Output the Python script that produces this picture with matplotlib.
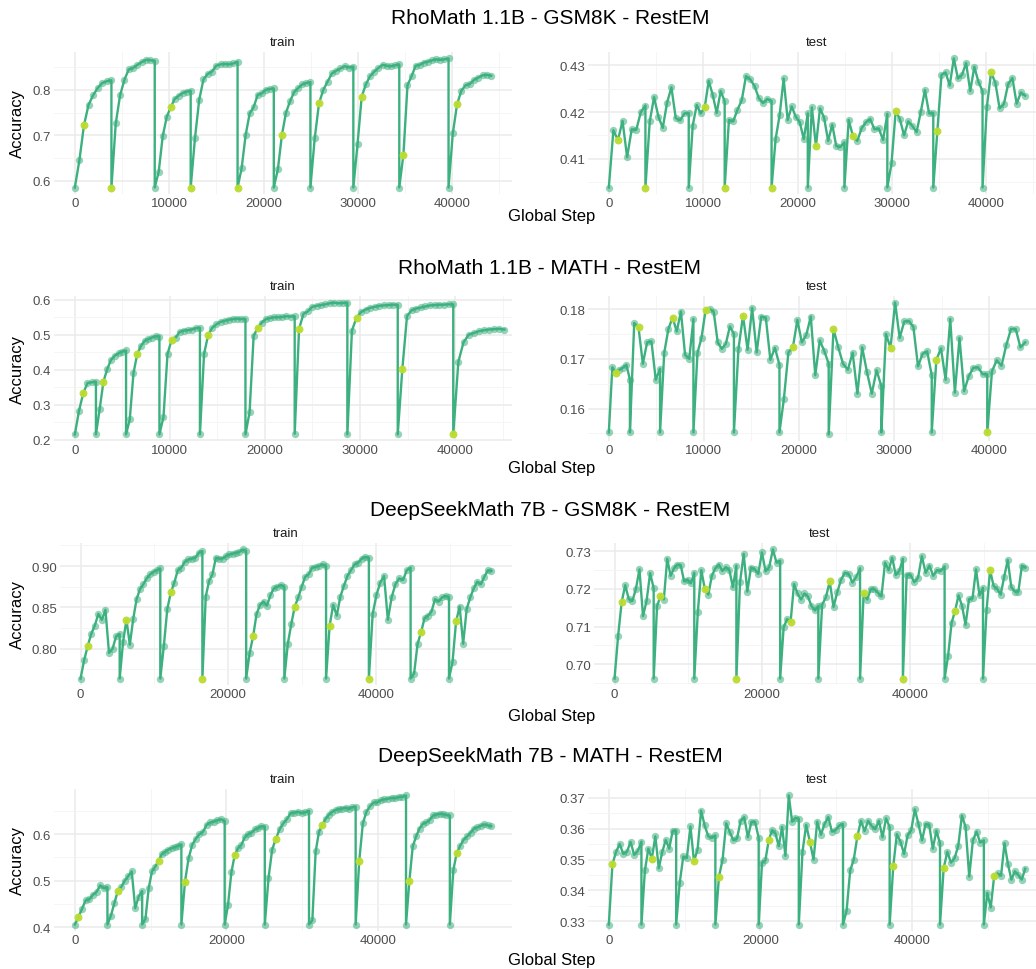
import numpy as np
import matplotlib
matplotlib.use("Agg")
import matplotlib.pyplot as plt
from matplotlib.ticker import MultipleLocator, FormatStrFormatter

plt.rcParams['font.family'] = ['Liberation Sans', 'DejaVu Sans']

GREEN = '#3DB07F'
YELLOW = '#C3DF2A'

# ---- RhoMath 1.1B - GSM8K ----
r1_steps = [0, 3880, 8470, 12280, 17250, 21090, 24970, 29520, 34390, 39610]
r1_end = [44130, 44130]
r1_xmax = 44130
r1_train = [
    [0.585, 0.645, 0.722, 0.767, 0.788, 0.804, 0.815, 0.819, 0.821],
    [0.585, 0.726, 0.788, 0.822, 0.845, 0.848, 0.855, 0.861, 0.866, 0.865, 0.864],
    [0.585, 0.620, 0.698, 0.740, 0.762, 0.780, 0.787, 0.793, 0.796, 0.798],
    [0.585, 0.693, 0.778, 0.823, 0.835, 0.840, 0.853, 0.856, 0.857, 0.856, 0.858, 0.862],
    [0.585, 0.627, 0.700, 0.748, 0.762, 0.789, 0.792, 0.800, 0.802, 0.803],
    [0.585, 0.625, 0.701, 0.750, 0.775, 0.795, 0.804, 0.812, 0.815, 0.817],
    [0.585, 0.693, 0.770, 0.800, 0.818, 0.836, 0.842, 0.847, 0.852, 0.849, 0.851],
    [0.585, 0.680, 0.785, 0.812, 0.830, 0.840, 0.848, 0.855, 0.853, 0.852, 0.854, 0.856],
    [0.585, 0.657, 0.810, 0.830, 0.853, 0.855, 0.860, 0.862, 0.865, 0.867, 0.866, 0.867, 0.869],
    [0.585, 0.704, 0.768, 0.798, 0.810, 0.813, 0.822, 0.827, 0.832, 0.833, 0.831],
]
r1_test = [
    [0.4038, 0.4161, 0.4140, 0.4181, 0.4103, 0.4163, 0.4162, 0.4200, 0.4214],
    [0.4038, 0.4180, 0.4232, 0.4190, 0.4166, 0.4220, 0.4253, 0.4187, 0.4182, 0.4197, 0.4198],
    [0.4038, 0.4171, 0.4215, 0.4197, 0.4210, 0.4267, 0.4237, 0.4198, 0.4245, 0.4223],
    [0.4038, 0.4183, 0.4180, 0.4205, 0.4225, 0.4277, 0.4270, 0.4256, 0.4230, 0.4219, 0.4228, 0.4224],
    [0.4038, 0.4142, 0.4193, 0.4272, 0.4183, 0.4212, 0.4190, 0.4178, 0.4142, 0.4197],
    [0.4038, 0.4210, 0.4127, 0.4208, 0.4188, 0.4138, 0.4173, 0.4127, 0.4125, 0.4135],
    [0.4038, 0.4183, 0.4148, 0.4138, 0.4165, 0.4178, 0.4185, 0.4163, 0.4165, 0.4140, 0.4196],
    [0.4038, 0.4090, 0.4202, 0.4185, 0.4150, 0.4180, 0.4170, 0.4157, 0.4200, 0.4247, 0.4197, 0.4198],
    [0.4038, 0.4160, 0.4280, 0.4285, 0.4257, 0.4315, 0.4272, 0.4280, 0.4305, 0.4245, 0.4297, 0.4265, 0.4245],
    [0.4038, 0.4210, 0.4285, 0.4263, 0.4208, 0.4217, 0.4260, 0.4273, 0.4218, 0.4242, 0.4235],
]
r1_train_sel = [2, 0, 4, 0, 0, 2, 2, 2, 1, 2]
r1_test_sel = [2, 0, 4, 0, 0, 2, 2, 2, 1, 2]

# ---- RhoMath 1.1B - MATH ----
r2_steps = [0, 2220, 5390, 8900, 13160, 17950, 23130, 28670, 33970, 39810]
r2_end = [45200, 43800]
r2_xmax = 43800
r2_train = [
    [0.215, 0.283, 0.333, 0.362, 0.364, 0.366],
    [0.215, 0.288, 0.366, 0.402, 0.428, 0.440, 0.447, 0.452, 0.455],
    [0.215, 0.258, 0.390, 0.444, 0.468, 0.482, 0.488, 0.492, 0.496, 0.495],
    [0.215, 0.265, 0.445, 0.485, 0.492, 0.508, 0.512, 0.513, 0.515, 0.519, 0.520],
    [0.215, 0.445, 0.500, 0.520, 0.530, 0.537, 0.540, 0.543, 0.545, 0.546, 0.545, 0.545],
    [0.215, 0.278, 0.497, 0.520, 0.535, 0.545, 0.548, 0.550, 0.550, 0.551, 0.553, 0.552, 0.553],
    [0.217, 0.517, 0.560, 0.567, 0.580, 0.583, 0.585, 0.587, 0.590, 0.592, 0.590, 0.591, 0.592],
    [0.215, 0.512, 0.549, 0.565, 0.572, 0.577, 0.580, 0.583, 0.584, 0.585, 0.586, 0.586],
    [0.215, 0.403, 0.553, 0.570, 0.575, 0.578, 0.581, 0.584, 0.585, 0.586, 0.586, 0.587, 0.587],
    [0.215, 0.423, 0.478, 0.500, 0.505, 0.510, 0.513, 0.515, 0.516, 0.517, 0.515],
]
r2_test = [
    [0.1552, 0.1683, 0.1672, 0.1678, 0.1682, 0.1688, 0.1658],
    [0.1552, 0.1772, 0.1763, 0.1690, 0.1733, 0.1735, 0.1658, 0.1680],
    [0.1552, 0.1712, 0.1760, 0.1783, 0.1755, 0.1795, 0.1708, 0.1700, 0.1780],
    [0.1552, 0.1712, 0.1742, 0.1798, 0.1800, 0.1795, 0.1733, 0.1720, 0.1730, 0.1765, 0.1750],
    [0.1552, 0.1720, 0.1787, 0.1718, 0.1802, 0.1713, 0.1785, 0.1783, 0.1698, 0.1722, 0.1688],
    [0.1552, 0.1620, 0.1713, 0.1723, 0.1778, 0.1733, 0.1748, 0.1785, 0.1667, 0.1737, 0.1716, 0.1690],
    [0.1548, 0.1760, 0.1723, 0.1690, 0.1678, 0.1712, 0.1630, 0.1723, 0.1673, 0.1630, 0.1677, 0.1645],
    [0.1552, 0.1750, 0.1722, 0.1813, 0.1742, 0.1775, 0.1776, 0.1764, 0.1685, 0.1710, 0.1715, 0.1667],
    [0.1552, 0.1698, 0.1721, 0.1658, 0.1780, 0.1632, 0.1742, 0.1635, 0.1665, 0.1682, 0.1683, 0.1669, 0.1669],
    [0.1552, 0.1675, 0.1697, 0.1686, 0.1727, 0.1760, 0.1760, 0.1723, 0.1733],
]
r2_train_sel = [2, 2, 3, 3, 2, 3, 1, 2, 1, 0]
r2_test_sel = [2, 2, 3, 3, 2, 3, 1, 2, 1, 0]

# ---- DeepSeekMath 7B - GSM8K ----
r3_steps = [0, 5300, 10800, 16500, 22430, 27600, 33250, 39050, 44700, 49900]
r3_end = [55650, 55650]
r3_xmax = 55650
r3_train = [
    [0.764, 0.786, 0.803, 0.818, 0.828, 0.842, 0.835, 0.847, 0.795, 0.800, 0.815, 0.818],
    [0.764, 0.808, 0.835, 0.805, 0.836, 0.860, 0.872, 0.878, 0.885, 0.890, 0.893, 0.895, 0.897],
    [0.764, 0.803, 0.848, 0.868, 0.880, 0.895, 0.898, 0.905, 0.908, 0.909, 0.910, 0.916, 0.918],
    [0.764, 0.863, 0.882, 0.890, 0.910, 0.909, 0.909, 0.912, 0.914, 0.915, 0.916, 0.917, 0.920, 0.918],
    [0.764, 0.795, 0.815, 0.842, 0.853, 0.857, 0.852, 0.865, 0.873, 0.875, 0.877, 0.875],
    [0.764, 0.806, 0.830, 0.851, 0.862, 0.875, 0.887, 0.890, 0.898, 0.899, 0.900, 0.902, 0.900],
    [0.764, 0.828, 0.853, 0.840, 0.863, 0.876, 0.888, 0.895, 0.902, 0.904, 0.909, 0.911, 0.910],
    [0.764, 0.842, 0.865, 0.880, 0.888, 0.835, 0.862, 0.878, 0.885, 0.883, 0.895, 0.898],
    [0.764, 0.770, 0.806, 0.820, 0.837, 0.840, 0.845, 0.860, 0.857, 0.862, 0.864, 0.862],
    [0.764, 0.784, 0.833, 0.851, 0.806, 0.848, 0.862, 0.873, 0.881, 0.878, 0.887, 0.895, 0.894],
]
r3_test = [
    [0.6962, 0.7075, 0.7165, 0.7210, 0.7173, 0.7168, 0.7200, 0.7252, 0.7128, 0.7168, 0.7242, 0.7202],
    [0.6962, 0.7155, 0.7180, 0.7172, 0.7280, 0.7235, 0.7255, 0.7265, 0.7263, 0.7220, 0.7225, 0.7215, 0.7243],
    [0.6962, 0.7138, 0.7250, 0.7200, 0.7185, 0.7235, 0.7255, 0.7265, 0.7248, 0.7258, 0.7250, 0.7205, 0.7262],
    [0.6962, 0.7218, 0.7293, 0.7193, 0.7257, 0.7253, 0.7240, 0.7297, 0.7247, 0.7258, 0.7305, 0.7270, 0.7275],
    [0.6962, 0.7098, 0.7120, 0.7112, 0.7213, 0.7188, 0.7172, 0.7188, 0.7180, 0.7155, 0.7143, 0.7155],
    [0.6962, 0.7158, 0.7178, 0.7220, 0.7152, 0.7192, 0.7225, 0.7243, 0.7240, 0.7217, 0.7232, 0.7255],
    [0.6962, 0.7188, 0.7172, 0.7200, 0.7200, 0.7190, 0.7180, 0.7270, 0.7250, 0.7283, 0.7237, 0.7248, 0.7280],
    [0.6962, 0.7238, 0.7238, 0.7218, 0.7230, 0.7287, 0.7243, 0.7262, 0.7235, 0.7250, 0.7248, 0.7260],
    [0.6962, 0.7022, 0.7110, 0.7142, 0.7183, 0.7155, 0.7105, 0.7173, 0.7175, 0.7252, 0.7183, 0.7203],
    [0.6962, 0.7143, 0.7250, 0.7208, 0.7200, 0.7185, 0.7233, 0.7277, 0.7205, 0.7193, 0.7193, 0.7262, 0.7257],
]
r3_train_sel = [2, 2, 3, 0, 2, 3, 1, 0, 3, 2]
r3_test_sel = [2, 2, 3, 0, 3, 3, 1, 0, 3, 2]

# ---- DeepSeekMath 7B - MATH ----
r4_steps = [0, 4300, 8880, 14050, 19760, 25050, 30880, 37030, 43670, 49450]
r4_end = [54900, 54900]
r4_xmax = 54900
r4_train = [
    [0.406, 0.422, 0.440, 0.458, 0.460, 0.470, 0.476, 0.490, 0.484, 0.486],
    [0.406, 0.425, 0.452, 0.478, 0.487, 0.500, 0.510, 0.520, 0.441, 0.466, 0.478],
    [0.406, 0.418, 0.484, 0.520, 0.530, 0.543, 0.557, 0.562, 0.567, 0.570, 0.572, 0.575, 0.578],
    [0.406, 0.498, 0.548, 0.577, 0.590, 0.600, 0.605, 0.620, 0.625, 0.627, 0.630, 0.632, 0.628],
    [0.406, 0.448, 0.518, 0.555, 0.570, 0.577, 0.593, 0.600, 0.603, 0.610, 0.613, 0.617, 0.616],
    [0.406, 0.505, 0.567, 0.590, 0.610, 0.623, 0.632, 0.645, 0.646, 0.648, 0.645, 0.647, 0.650],
    [0.406, 0.415, 0.563, 0.605, 0.620, 0.633, 0.642, 0.648, 0.652, 0.654, 0.655, 0.657, 0.654, 0.658, 0.659],
    [0.406, 0.543, 0.623, 0.648, 0.660, 0.668, 0.668, 0.673, 0.675, 0.676, 0.678, 0.677, 0.680, 0.680, 0.683],
    [0.406, 0.500, 0.574, 0.595, 0.612, 0.622, 0.625, 0.630, 0.640, 0.642, 0.644, 0.643, 0.641, 0.640],
    [0.406, 0.522, 0.560, 0.575, 0.588, 0.595, 0.603, 0.612, 0.615, 0.618, 0.621, 0.619, 0.617],
]
r4_test = [
    [0.3290, 0.3485, 0.3525, 0.3550, 0.3518, 0.3525, 0.3557, 0.3515, 0.3528, 0.3558],
    [0.3290, 0.3465, 0.3535, 0.3503, 0.3575, 0.3472, 0.3525, 0.3563, 0.3535, 0.3593, 0.3593],
    [0.3290, 0.3425, 0.3510, 0.3505, 0.3607, 0.3495, 0.3532, 0.3658, 0.3610, 0.3575, 0.3570, 0.3578],
    [0.3290, 0.3445, 0.3500, 0.3617, 0.3588, 0.3562, 0.3568, 0.3625, 0.3637, 0.3572, 0.3622, 0.3622, 0.3570],
    [0.3290, 0.3490, 0.3497, 0.3562, 0.3595, 0.3585, 0.3543, 0.3605, 0.3512, 0.3707, 0.3622, 0.3635, 0.3632],
    [0.3290, 0.3525, 0.3612, 0.3558, 0.3500, 0.3622, 0.3580, 0.3615, 0.3637, 0.3590, 0.3595, 0.3610, 0.3615],
    [0.3290, 0.3335, 0.3465, 0.3500, 0.3575, 0.3625, 0.3592, 0.3625, 0.3608, 0.3598, 0.3625, 0.3572, 0.3633, 0.3605],
    [0.3290, 0.3478, 0.3582, 0.3558, 0.3518, 0.3578, 0.3595, 0.3662, 0.3615, 0.3562, 0.3615, 0.3612, 0.3535, 0.3593, 0.3552],
    [0.3290, 0.3472, 0.3525, 0.3490, 0.3505, 0.3545, 0.3642, 0.3605, 0.3445, 0.3562, 0.3590, 0.3555, 0.3562],
    [0.3290, 0.3392, 0.3345, 0.3447, 0.3455, 0.3448, 0.3553, 0.3485, 0.3435, 0.3462, 0.3450, 0.3435, 0.3470],
]
r4_train_sel = [1, 3, 5, 1, 3, 3, 4, 1, 1, 2]
r4_test_sel = [1, 3, 5, 1, 3, 3, 4, 1, 1, 3]

titles = ["RhoMath 1.1B - GSM8K - RestEM", "RhoMath 1.1B - MATH - RestEM",
          "DeepSeekMath 7B - GSM8K - RestEM", "DeepSeekMath 7B - MATH - RestEM"]

rows = [
    (r1_steps, r1_end, r1_xmax, r1_train, r1_test, r1_train_sel, r1_test_sel, 10000, (0.1, 0.05, '%.1f'), (0.01, 0.005, '%.2f')),
    (r2_steps, r2_end, r2_xmax, r2_train, r2_test, r2_train_sel, r2_test_sel, 10000, (0.1, 0.05, '%.1f'), (0.01, 0.005, '%.2f')),
    (r3_steps, r3_end, r3_xmax, r3_train, r3_test, r3_train_sel, r3_test_sel, 20000, (0.05, 0.025, '%.2f'), (0.01, 0.005, '%.2f')),
    (r4_steps, r4_end, r4_xmax, r4_train, r4_test, r4_train_sel, r4_test_sel, 20000, (0.1, 0.05, '%.1f'), (0.01, 0.005, '%.2f')),
]

W, H = 1036, 970
fig = plt.figure(figsize=(W / 100, H / 100), dpi=100)

panel_top = [53, 297, 544, 790]
panel_bot = [195, 442, 686, 932]
train_left = [54, 54, 60, 54]
title_y = [18, 268, 510, 757]
xlab_y = [217, 469, 716, 961]


def px_axes(left, top, right, bottom):
    return fig.add_axes([left / W, 1 - bottom / H, (right - left) / W, (bottom - top) / H])


def draw(ax, steps, end, episodes, sel):
    edges = steps[1:] + [end]
    xs, ys, sx, sy = [], [], [], []
    for k, vals in enumerate(episodes):
        x = np.linspace(steps[k], edges[k], len(vals))
        xs.extend(x)
        ys.extend(vals)
        sx.append(x[sel[k]])
        sy.append(vals[sel[k]])
    ax.plot(xs, ys, color=GREEN, lw=1.7, zorder=3)
    ax.scatter(xs, ys, s=28, color=GREEN, alpha=0.55, lw=0, zorder=4)
    ax.scatter(sx, sy, s=32, color=YELLOW, alpha=0.9, lw=0, zorder=5)


def style(ax, xmax, xmajor, ytick):
    ax.set_xlim(-0.05 * xmax, 1.05 * xmax)
    ax.margins(y=0.05)
    ax.xaxis.set_major_locator(MultipleLocator(xmajor))
    ax.xaxis.set_minor_locator(MultipleLocator(xmajor / 2))
    ax.xaxis.set_major_formatter(FormatStrFormatter('%d'))
    ax.yaxis.set_major_locator(MultipleLocator(ytick[0]))
    ax.yaxis.set_minor_locator(MultipleLocator(ytick[1]))
    ax.yaxis.set_major_formatter(FormatStrFormatter(ytick[2]))
    for s in ax.spines.values():
        s.set_visible(False)
    ax.grid(which='major', color='#EBEBEB', lw=1.1, zorder=0)
    ax.grid(which='minor', color='#F4F4F4', lw=0.6, zorder=0)
    ax.tick_params(which='both', length=0, labelsize=9.5, colors='#4D4D4D', pad=2)


for i, (steps, end, xmax, tr, te, trs, tes, xmajor, ytr, yte) in enumerate(rows):
    tl = train_left[i]
    ax1 = px_axes(tl, panel_top[i], 512, panel_bot[i])
    ax2 = px_axes(tl + 534, panel_top[i], 512 + 534, panel_bot[i])
    draw(ax1, steps, end[0], tr, trs)
    draw(ax2, steps, end[1], te, tes)
    style(ax1, xmax, xmajor, ytr)
    style(ax2, xmax, xmajor, yte)
    fig.text((tl + 512) / 2 / W, 1 - (panel_top[i] - 10) / H, 'train', ha='center', va='center', fontsize=9.5, color='#1A1A1A')
    fig.text((tl + 534 + 1046) / 2 / W, 1 - (panel_top[i] - 10) / H, 'test', ha='center', va='center', fontsize=9.5, color='#1A1A1A')
    fig.text(550 / W, 1 - title_y[i] / H, titles[i], ha='center', va='center', fontsize=15)
    fig.text(552 / W, 1 - xlab_y[i] / H, 'Global Step', ha='center', va='center', fontsize=12)
    fig.text(17 / W, 1 - (panel_top[i] + panel_bot[i]) / 2 / H, 'Accuracy', ha='center', va='center',
             rotation=90, fontsize=12)

fig.savefig('out.png', dpi=100, facecolor='white')
